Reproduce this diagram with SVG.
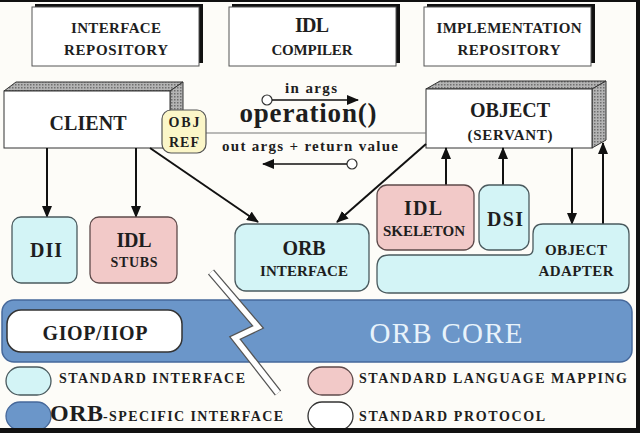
<svg xmlns="http://www.w3.org/2000/svg" width="640" height="433" viewBox="0 0 640 433">
<style>
.t{font-family:"Liberation Serif","Times New Roman",serif;font-weight:bold;fill:#1e1e1e;text-anchor:middle}
.l{font-family:"Liberation Serif","Times New Roman",serif;font-weight:bold;fill:#1e1e1e}
.box{fill:#ffffff;stroke:#555;stroke-width:1}
.shadow{fill:#111}
.cyan{fill:#d3f4f6;stroke:#4a5a5e;stroke-width:1.3}
.pink{fill:#f2c9c8;stroke:#5e4a4a;stroke-width:1.3}
.face{fill:url(#dots);stroke:#333;stroke-width:1}
.front{fill:#fff;stroke:#333;stroke-width:1}
.arrow{stroke:#111;stroke-width:2;fill:none;marker-end:url(#ah)}
.thin{stroke:#111;stroke-width:1.4;fill:none;marker-end:url(#ah)}
</style>
<defs>
<pattern id="dots" width="3" height="3" patternUnits="userSpaceOnUse">
<rect width="3" height="3" fill="#b4b4b4"/>
<rect width="1.5" height="1.5" fill="#6e6e6e"/>
</pattern>
<marker id="ah" viewBox="0 0 12 10" refX="11" refY="5" markerWidth="12" markerHeight="10" markerUnits="userSpaceOnUse" orient="auto">
<path d="M0,0 L12,5 L0,10 Z" fill="#111"/>
</marker>
</defs>
<rect width="640" height="433" fill="#fdfcf8"/>

<g id="interface-repository">
<rect class="shadow" x="35" y="4" width="168" height="59"/>
<rect class="box" x="32" y="7" width="167" height="59"/>
<text class="t" x="116" y="33" font-size="15" textLength="90">INTERFACE</text>
<text class="t" x="116" y="55" font-size="15" textLength="104">REPOSITORY</text>
</g>
<g id="idl-compiler">
<rect class="shadow" x="232" y="4" width="168" height="59"/>
<rect class="box" x="229" y="7" width="167" height="59"/>
<text class="t" x="312" y="32" font-size="20" textLength="34">IDL</text>
<text class="t" x="312" y="55" font-size="15" textLength="81">COMPILER</text>
</g>
<g id="implementation-repository">
<rect class="shadow" x="427" y="4" width="168" height="59"/>
<rect class="box" x="424" y="7" width="167" height="59"/>
<text class="t" x="509" y="33" font-size="15" textLength="145">IMPLEMENTATION</text>
<text class="t" x="509" y="55" font-size="15" textLength="103">REPOSITORY</text>
</g>

<g id="client">
<polygon class="face" points="4,91 16,82 183,82 170,91"/>
<polygon class="face" points="170,91 183,82 183,139 170,148"/>
<rect class="front" x="4" y="91" width="166" height="57"/>
<text class="t" x="88" y="130" font-size="20" textLength="77">CLIENT</text>
</g>

<g id="object">
<polygon class="face" points="426,89 440,81 606,81 592,89"/>
<polygon class="face" points="592,89 606,81 606,140 592,148"/>
<rect class="front" x="426" y="89" width="166" height="59"/>
<text class="t" x="510" y="117" font-size="20" textLength="80">OBJECT</text>
<text class="t" x="510" y="140" font-size="15" textLength="85">(SERVANT)</text>
</g>

<g id="connectors">
<line x1="206" y1="133" x2="426" y2="133" stroke="#777" stroke-width="1.2"/>
<line class="arrow" x1="47" y1="148" x2="47" y2="217"/>
<line class="arrow" x1="136" y1="148" x2="136" y2="217"/>
<line class="arrow" x1="150" y1="148" x2="258" y2="222" stroke-width="2.5"/>
<line class="arrow" x1="426" y1="144" x2="337" y2="222" stroke-width="2.5"/>
<line class="arrow" x1="446" y1="185" x2="446" y2="148"/>
<line class="arrow" x1="503" y1="185" x2="503" y2="148"/>
<line class="arrow" x1="572" y1="148" x2="572" y2="224"/>
<line class="arrow" x1="603" y1="224" x2="603" y2="143"/>
<circle cx="267" cy="100" r="5" fill="#fff" stroke="#333" stroke-width="1.2"/>
<line class="thin" x1="272" y1="100" x2="358" y2="100"/>
<circle cx="352" cy="164" r="5" fill="#fff" stroke="#333" stroke-width="1.2"/>
<line class="thin" x1="347" y1="164" x2="263" y2="164"/>
</g>

<g id="operation-labels">
<text class="t" x="311" y="93" font-size="15" textLength="52">in args</text>
<text class="t" x="308" y="122" font-size="27" textLength="137">operation()</text>
<text class="t" x="310" y="151" font-size="15" textLength="176">out args + return value</text>
</g>

<g id="obj-ref">
<rect x="162" y="110" width="44" height="43" rx="9" fill="#fbf6c8" stroke="#555" stroke-width="1.2"/>
<text class="t" x="184" y="127" font-size="14" textLength="31">OBJ</text>
<text class="t" x="184" y="147" font-size="14" textLength="30">REF</text>
</g>

<g id="dii">
<rect class="cyan" x="12" y="217" width="65" height="66" rx="9"/>
<text class="t" x="46" y="257" font-size="20" textLength="32">DII</text>
</g>
<g id="idl-stubs">
<rect class="pink" x="90" y="217" width="87" height="66" rx="9"/>
<text class="t" x="134" y="247" font-size="20" textLength="35">IDL</text>
<text class="t" x="134" y="267" font-size="14" textLength="47">STUBS</text>
</g>
<g id="orb-interface">
<rect class="cyan" x="235" y="224" width="134" height="67" rx="11"/>
<text class="t" x="304" y="255" font-size="20" textLength="43">ORB</text>
<text class="t" x="304" y="276" font-size="15" textLength="88">INTERFACE</text>
</g>
<g id="idl-skeleton">
<rect class="pink" x="377" y="185" width="97" height="65" rx="10"/>
<text class="t" x="423" y="215" font-size="20" textLength="38">IDL</text>
<text class="t" x="424" y="236" font-size="15" textLength="82">SKELETON</text>
</g>
<g id="dsi">
<rect class="cyan" x="479" y="185" width="50" height="65" rx="10"/>
<text class="t" x="505" y="226" font-size="20" textLength="36">DSI</text>
</g>
<g id="object-adapter">
<path class="cyan" d="M389,255 L527,255 Q533,255 533,249 L533,234 Q533,224 543,224 L619,224 Q629,224 629,234 L629,283 Q629,293 619,293 L389,293 Q377,293 377,281 L377,267 Q377,255 389,255 Z"/>
<text class="t" x="576" y="255" font-size="15" textLength="62">OBJECT</text>
<text class="t" x="576" y="276" font-size="15" textLength="75">ADAPTER</text>
</g>

<g id="orb-core">
<rect x="2" y="300" width="630" height="62" rx="12" fill="#6b96c9" stroke="#46689a" stroke-width="1.5"/>
<text x="446" y="343" font-family="Liberation Serif, Times New Roman, serif" font-size="29" fill="#e8f3fb" text-anchor="middle" textLength="153">ORB CORE</text>
</g>

<g id="break">
<polyline points="211,272 258,327 235,338 278,393" fill="none" stroke="#555" stroke-width="8" stroke-miterlimit="10"/>
<polyline points="211,272 258,327 235,338 278,393" fill="none" stroke="#fff" stroke-width="5.5" stroke-miterlimit="10"/>
</g>

<g id="giop-iiop">
<rect x="7" y="310" width="175" height="42" rx="14" fill="#fff" stroke="#333" stroke-width="1.5"/>
<text class="t" x="95" y="340" font-size="20" textLength="105">GIOP/IIOP</text>
</g>

<g id="legend">
<rect x="6" y="367" width="45" height="28" rx="14" fill="#d3f4f6" stroke="#4a5a5e" stroke-width="1.3"/>
<text class="l" x="59" y="383" font-size="14" textLength="186">STANDARD INTERFACE</text>
<rect x="6" y="402" width="45" height="28" rx="14" fill="#6b96c9" stroke="#46689a" stroke-width="1.3"/>
<text class="l" x="50" y="421" font-size="24" textLength="53">ORB</text>
<text class="l" x="103" y="421" font-size="14" textLength="180">-SPECIFIC INTERFACE</text>
<rect x="308" y="367" width="45" height="28" rx="14" fill="#f2c9c8" stroke="#5e4a4a" stroke-width="1.3"/>
<text class="l" x="359" y="383" font-size="14" textLength="268">STANDARD LANGUAGE MAPPING</text>
<rect x="308" y="402" width="45" height="28" rx="14" fill="#fff" stroke="#333" stroke-width="1.3"/>
<text class="l" x="359" y="421" font-size="14" textLength="186">STANDARD PROTOCOL</text>
</g>

<rect x="0" y="0" width="640" height="2" fill="#111"/>
<rect x="636" y="0" width="4" height="433" fill="#111"/>
<rect x="0" y="428" width="640" height="5" fill="#111"/>
</svg>
